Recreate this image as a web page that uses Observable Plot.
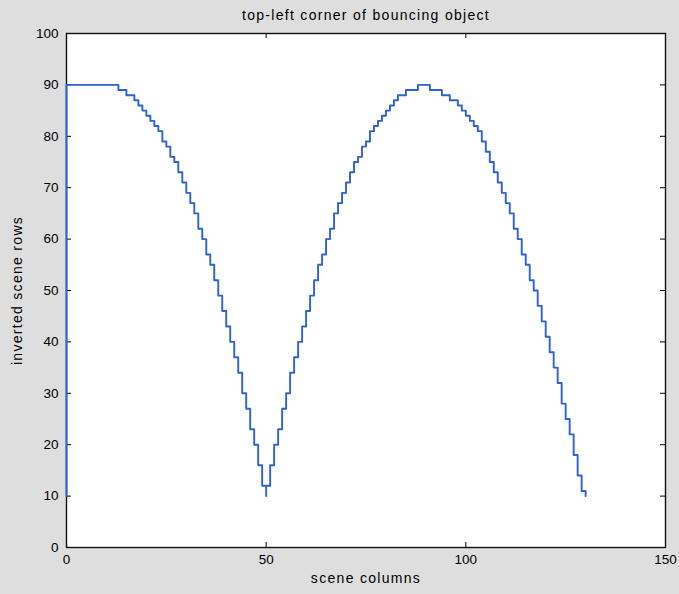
<!DOCTYPE html>
<html>
<head>
<meta charset="utf-8">
<script src="https://cdn.jsdelivr.net/npm/d3@7"></script>
<script src="https://cdn.jsdelivr.net/npm/@observablehq/plot@0.6"></script>
<style>
  html, body { margin: 0; padding: 0; background: #dedede; }
</style>
</head>
<body>
<div id="chart"></div>
<script>
const titleText = "top-left corner of bouncing object";
const xLabel = "scene columns";
const yLabel = "inverted scene rows";
const xTicks = [0, 50, 100, 150];
const yTicks = [0, 10, 20, 30, 40, 50, 60, 70, 80, 90, 100];

// path vertices (column, inverted row), drawn as a step-after staircase
const sceneColumns = [
  0, 0, 1, 2, 3, 4, 5, 6, 7, 8, 9, 10, 11, 12,
  13, 14, 15, 16, 17, 18, 19, 20, 21, 22, 23, 24, 25, 26, 27, 28, 29, 30,
  31, 32, 33, 34, 35, 36, 37, 38, 39, 40, 41, 42, 43, 44, 45, 46, 47, 48, 49,
  50, 50, 50,
  51, 52, 53, 54, 55, 56, 57, 58, 59, 60, 61, 62, 63, 64, 65, 66, 67, 68, 69, 70,
  71, 72, 73, 74, 75, 76, 77, 78, 79, 80, 81, 82, 83, 84, 85, 86, 87, 88, 89, 90,
  91, 92, 93, 94, 95, 96, 97, 98, 99, 100, 101, 102, 103, 104, 105, 106, 107, 108, 109, 110,
  111, 112, 113, 114, 115, 116, 117, 118, 119, 120, 121, 122, 123, 124, 125, 126, 127, 128, 129, 130
];
const invertedRows = [
  10, 90, 90, 90, 90, 90, 90, 90, 90, 90, 90, 90, 90, 90,
  89, 89, 88, 88, 87, 86, 85, 84, 83, 82, 81, 79, 78, 76, 75, 73, 71, 69,
  67, 65, 62, 60, 57, 55, 52, 49, 46, 43, 40, 37, 34, 30, 27, 23, 20, 16, 12,
  12, 10, 12,
  16, 20, 23, 27, 30, 34, 37, 40, 43, 46, 49, 52, 55, 57, 60, 62, 65, 67, 69, 71,
  73, 75, 76, 78, 79, 81, 82, 83, 84, 85, 86, 87, 88, 88, 89, 89, 89, 90, 90, 90,
  89, 89, 89, 88, 88, 87, 87, 86, 85, 84, 83, 82, 81, 79, 77, 75, 73, 71, 69, 67,
  65, 62, 60, 57, 55, 52, 50, 47, 44, 41, 38, 35, 32, 28, 25, 22, 18, 14, 11, 10
];

const path = sceneColumns.map((c, i) => ({col: c, row: invertedRows[i]}));

const W = 679, H = 594;
const mL = 66, mR = 14, mT = 33, mB = 47;
const frameW = W - mL - mR, frameH = H - mT - mB;
const tickLen = 5;
const labelFont = "'Liberation Sans', Arial, sans-serif";

const chart = Plot.plot({
  width: W,
  height: H,
  marginLeft: mL,
  marginRight: mR,
  marginTop: mT,
  marginBottom: mB,
  style: {
    background: "#dedede",
    fontFamily: labelFont,
    fontSize: "13px",
    color: "#000"
  },
  x: {domain: [0, 150]},
  y: {domain: [0, 100]},
  marks: [
    Plot.frame({fill: "white", stroke: "none"}),
    // inward ticks on all four sides
    Plot.tickX(xTicks, {x: d => d, insetTop: frameH - tickLen, stroke: "#000", strokeWidth: 1}),
    Plot.tickX(xTicks, {x: d => d, insetBottom: frameH - tickLen, stroke: "#000", strokeWidth: 1}),
    Plot.tickY(yTicks, {y: d => d, insetRight: frameW - tickLen, stroke: "#000", strokeWidth: 1}),
    Plot.tickY(yTicks, {y: d => d, insetLeft: frameW - tickLen, stroke: "#000", strokeWidth: 1}),
    Plot.frame({stroke: "#111", strokeWidth: 1.4}),
    Plot.axisX({ticks: xTicks, tickSize: 0, tickPadding: 7, label: null, fontSize: 13.5}),
    Plot.axisY({ticks: yTicks, tickSize: 0, tickPadding: 8, label: null, fontSize: 13.5}),
    Plot.line(path, {x: "col", y: "row", curve: "step-after", stroke: "#2d62d6", strokeWidth: 1.9, strokeLinejoin: "round"}),
    Plot.text([titleText], {frameAnchor: "top", lineAnchor: "middle", textAnchor: "middle", dy: -18, fontSize: 14}),
    Plot.text([xLabel], {frameAnchor: "bottom", lineAnchor: "middle", textAnchor: "middle", dy: 31, fontSize: 14}),
    Plot.text([yLabel], {frameAnchor: "left", lineAnchor: "middle", textAnchor: "middle", dx: -49, rotate: -90, fontSize: 14})
  ]
});
// loose letter spacing like the reference's bitmap font
d3.select(chart).selectAll("text").filter(function() {
  const t = this.textContent;
  return t === titleText || t === xLabel || t === yLabel;
}).style("letter-spacing", "1.3px");
document.getElementById("chart").appendChild(chart);
</script>
</body>
</html>
